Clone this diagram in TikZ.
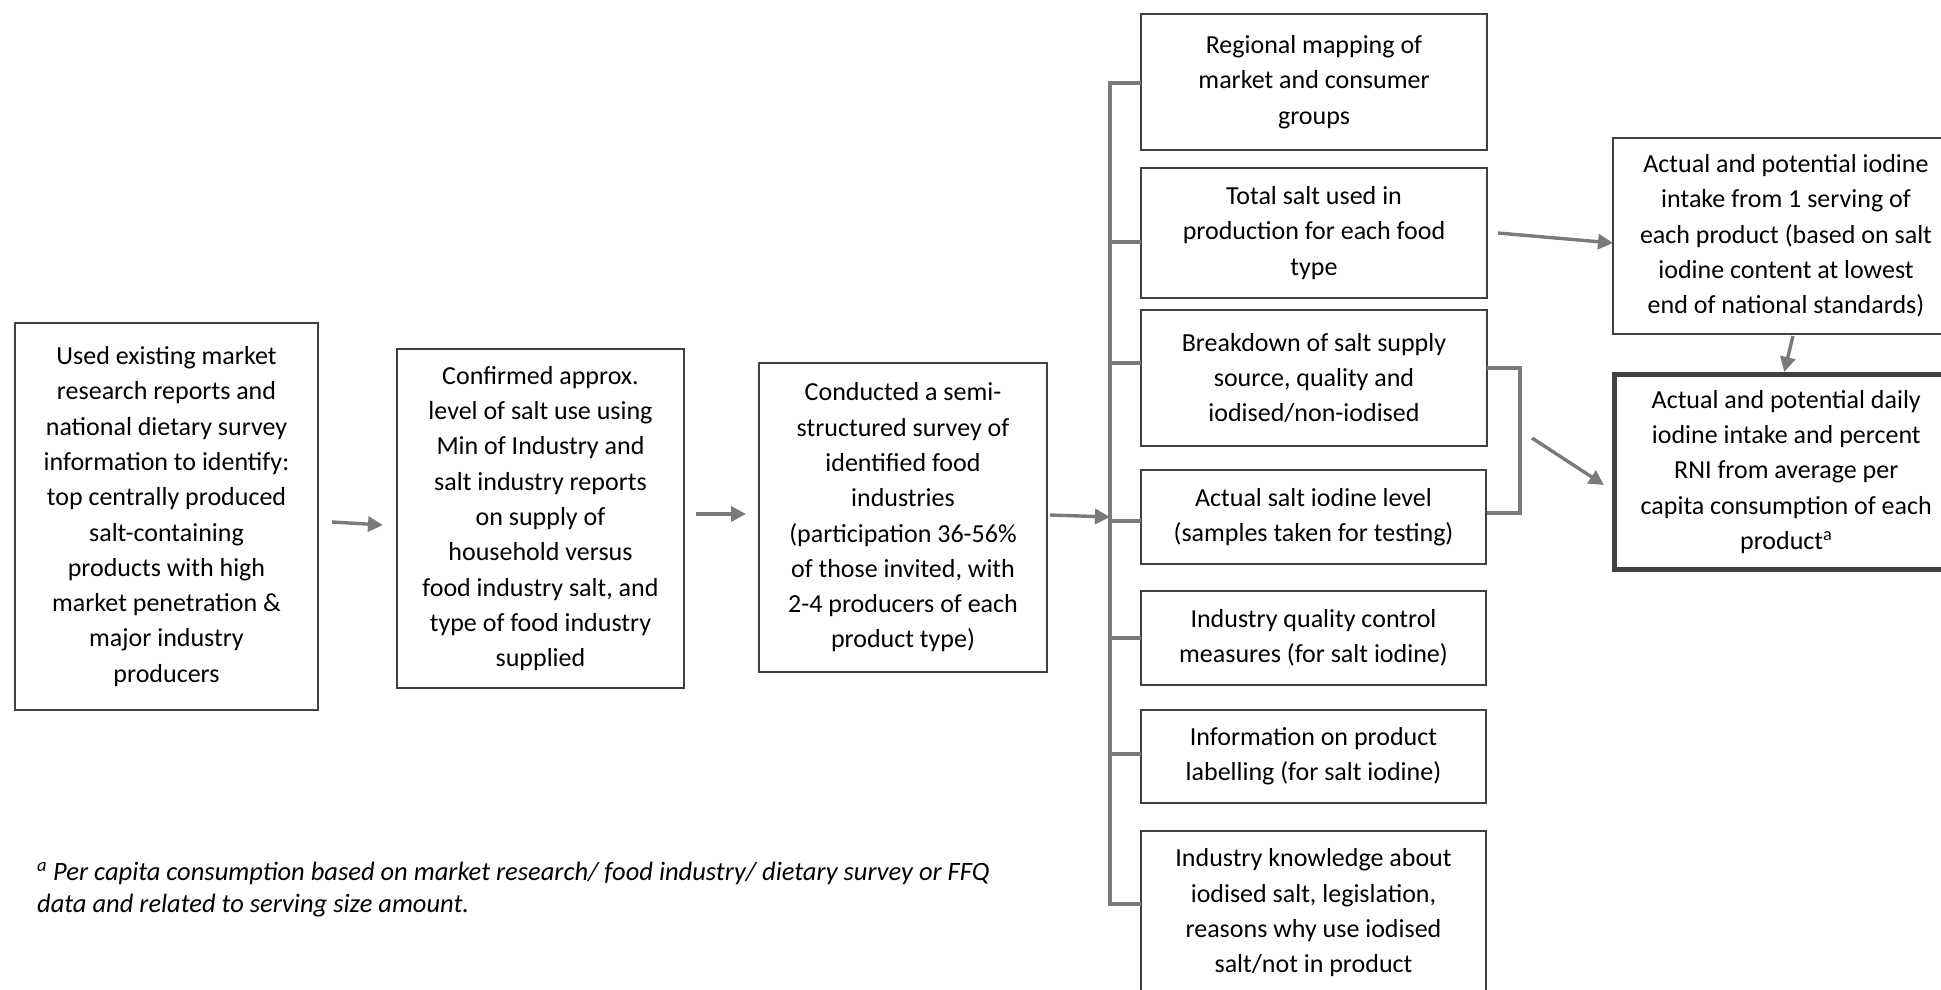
\documentclass[tikz,border=0pt]{standalone}
\usepackage{fontspec}
\setmainfont{Carlito}
\usetikzlibrary{arrows.meta,calc}
\definecolor{boxgray}{HTML}{404040}
\definecolor{linegray}{HTML}{7A7A7A}
\tikzset{
  box/.style={draw=boxgray, line width=2.6pt, outer sep=0pt, inner sep=0pt, align=center, text=black, font=\fontsize{26}{35.3}\selectfont},
  conn/.style={draw=linegray, line width=3.4pt},
  arr/.style={draw=linegray, line width=3.4pt, -{Triangle[length=15pt,width=15pt]}},
  note/.style={font=\itshape\fontsize{26.5}{31.5}\selectfont, align=left, inner sep=0pt, text=black}
}
\begin{document}
\begin{tikzpicture}[x=1pt,y=-1pt]
\useasboundingbox (0,0) rectangle (1941,990);
\clip (0,0) rectangle (1941,990);

\node[box, minimum width=303pt, minimum height=387pt] (b1) at (166.5,516.5) {Used existing market\\research reports and\\national dietary survey\\information to identify:\\top centrally produced\\salt-containing\\products with high\\market penetration \&\\major industry\\producers};
\node[box, minimum width=287pt, minimum height=339pt] (b2) at (540.5,518.5) {Confirmed approx.\\level of salt use using\\Min of Industry and\\salt industry reports\\on supply of\\household versus\\food industry salt, and\\type of food industry\\supplied};
\node[box, minimum width=288pt, minimum height=309pt] (b3) at (903,517.5) {Conducted a semi-\\structured survey of\\identified food\\industries\\(participation 36-56\%\\of those invited, with\\2-4 producers of each\\product type)};

\node[box, minimum width=346pt, minimum height=136pt] (r1) at (1314,82) {Regional mapping of\\market and consumer\\groups};
\node[box, minimum width=346pt, minimum height=130pt] (r2) at (1314,233) {Total salt used in\\production for each food\\type};
\node[box, minimum width=346pt, minimum height=136pt] (r3) at (1314,378) {Breakdown of salt supply\\source, quality and\\iodised/non-iodised};
\node[box, minimum width=345pt, minimum height=94pt] (r4) at (1313.5,517) {Actual salt iodine level\\(samples taken for testing)};
\node[box, minimum width=345pt, minimum height=94pt] (r5) at (1313.5,638) {Industry quality control\\measures (for salt iodine)};
\node[box, minimum width=345pt, minimum height=93pt] (r6) at (1313.5,756.5) {Information on product\\labelling (for salt iodine)};
\node[box, minimum width=345pt, minimum height=164pt] (r7) at (1313.5,913) {Industry knowledge about\\iodised salt, legislation,\\reasons why use iodised\\salt/not in product};

\node[box, minimum width=346pt, minimum height=196pt] (t1) at (1786,236) {Actual and potential iodine\\intake from 1 serving of\\each product (based on salt\\iodine content at lowest\\end of national standards)};
\node[box, line width=5pt, minimum width=343.5pt, minimum height=195pt] (t2) at (1786.25,472) {Actual and potential daily\\iodine intake and percent\\RNI from average per\\capita consumption of each\\product\textsuperscript{a}};

% main flow arrows
\draw[arr] ($(b1.east)+(14,5.5)$) -- ($(b2.west)+(-14,6.5)$);
\draw[arr] ($(b2.east)+(12,-4.5)$) -- ($(b3.west)+(-13,-3.5)$);
\coordinate (sp) at (1110,0);
\draw[arr] ($(b3.east)+(3,-2.5)$) -- (sp |- {$(b3.east)+(0,-0.5)$});

% left bracket
\coordinate (k1) at ($(r1.west)+(0,1)$);
\coordinate (k2) at ($(r2.west)+(0,9)$);
\coordinate (k3) at ($(r3.west)+(0,-15)$);
\coordinate (k4) at ($(r4.west)+(0,4)$);
\coordinate (k5) at ($(r5.west)+(0,0)$);
\coordinate (k6) at ($(r6.west)+(0,-2.5)$);
\coordinate (k7) at ($(r7.west)+(0,-9)$);
\draw[conn, line join=miter] (k1) -- (sp |- k1) -- (sp |- k7) -- (k7);
\foreach \k in {k2,k3,k4,k5,k6} { \draw[conn] (\k) -- (sp |- \k); }

% right bracket
\coordinate (q1) at ($(r3.east)+(0,-10)$);
\coordinate (q2) at ($(r4.east)+(1,-4)$);
\coordinate (qx) at (1520,0);
\draw[conn, line join=miter] (q1) -- (qx |- q1) -- (qx |- q2) -- (q2);
\coordinate (qm) at ($(qx |- q1)!0.5!(qx |- q2)$);

% arrows to outcome boxes
\draw[arr] ($(r2.east)+(11,0)$) -- ($(t1.west)+(0,7)$);
\draw[arr] ($(t1.south)+(7,2)$) -- ($(t2.north)+(-2,-2.5)$);
\draw[arr] ($(qm)+(12,-2.5)$) -- ($(t2.west)+(-10.5,13)$);

% footnote
\node[note, anchor=north west] (fn) at (37,862) {\textsuperscript{a} Per capita consumption based on market research/ food industry/ dietary survey or FFQ\\data and related to serving size amount.};
\end{tikzpicture}
\end{document}
